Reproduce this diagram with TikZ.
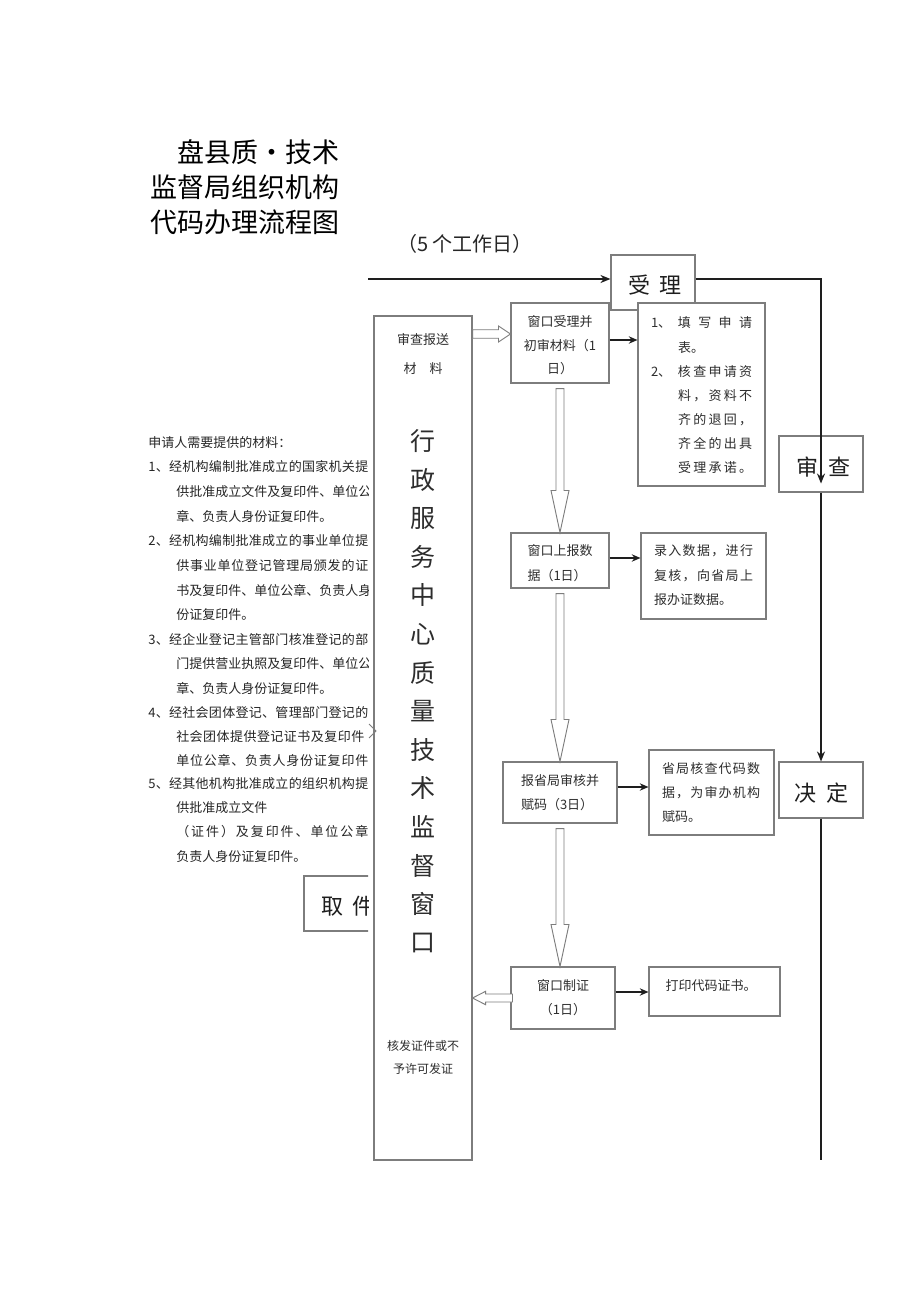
\documentclass[tikz,border=0pt]{standalone}
\usepackage{fontspec}
\setmainfont{Noto Sans CJK SC}
\usetikzlibrary{calc,arrows.meta}
\definecolor{bx}{RGB}{125,125,125}
\definecolor{tx}{RGB}{45,45,45}
\definecolor{ln}{RGB}{30,30,30}
\newcommand\fsz[2]{\fontsize{#1}{#2}\selectfont}
\ExplSyntaxOn
\NewDocumentCommand\jl{mm}{\makebox[#1][s]{\tl_map_inline:nn{#2}{##1\hskip 0pt plus 1fil}\unskip}}
\ExplSyntaxOff
\newcommand\hdown[2]{\draw[hollow] let \p1=($(#1.south)+(0,5)$), \p2=(#2.north) in
  (\x1-3pt,\y1) -- (\x1+3pt,\y1) -- (\x1+3pt,\y2+31.5pt) -- (\x1+6.75pt,\y2+31.5pt) --
  (\x1,\y2) -- (\x1-6.75pt,\y2+31.5pt) -- (\x1-3pt,\y2+31.5pt) -- cycle;}
\newcommand\hright[2]{\draw[hollow] let \p1=(#1), \p2=(#2) in
  (\x1,\y2+3.2pt) -- (\x2-9pt,\y2+3.2pt) -- (\x2-9pt,\y2+6pt) -- (\x2,\y2) --
  (\x2-9pt,\y2-6pt) -- (\x2-9pt,\y2-3.2pt) -- (\x1,\y2-3.2pt) -- cycle;}
\newcommand\hleft[2]{\draw[hollow] let \p1=(#1), \p2=(#2) in
  (\x1+1.5pt,\y1+3pt) -- (\x2+9.75pt,\y1+3pt) -- (\x2+9.75pt,\y1+5pt) -- (\x2,\y1) --
  (\x2+9.75pt,\y1-5pt) -- (\x2+9.75pt,\y1-3pt) -- (\x1+1.5pt,\y1-3pt) -- cycle;}
\begin{document}
\begin{tikzpicture}[x=0.75pt,y=-0.75pt,
  box/.style={draw=bx,line width=0.8pt,inner sep=0pt,fill=white},
  hollow/.style={draw=bx,line width=0.7pt,fill=white},
  flow/.style={draw=ln,line width=1.1pt},
  ftip/.style={-{Stealth[length=7.5pt,width=6pt]}},
  arr/.style={draw=ln,line width=1pt,-{Stealth[length=6.5pt,width=5.5pt]}},
  bt/.style={font=\fsz{9.75pt}{18pt},text=tx,inner sep=0pt},
  lt/.style={font=\fsz{9.75pt}{9.75pt},text=black!85,inner sep=0pt,anchor=west},
  big/.style={font=\fsz{16.5pt}{16.5pt},text=ln,inner sep=0pt}]
\fill[white] (0,0) rectangle (920,1301);
\useasboundingbox (0,0) rectangle (920,1301);

% title
\node[anchor=west,align=left,font=\fsz{20.25pt}{26.25pt},inner sep=0pt] (title) at (150,187)
  {\hspace*{20.25pt}盘县质・技术\\监督局组织机构\\代码办理流程图};
\node[font=\fsz{15pt}{15pt},inner sep=0pt,text=black!85] (days) at (465,244) {（5 个工作日）};

% boxes
\node[box,minimum width=63pt,minimum height=41.25pt] (shouli) at (653,282.5) {};
\node[box,minimum width=63pt,minimum height=42pt] (shencha) at (821,464) {};
\node[box,minimum width=63pt,minimum height=42pt] (jueding) at (821,790) {};
\node[box,minimum width=73.5pt,minimum height=633pt] (bigbox) at (423,738) {};
\node[box,minimum width=73.5pt,minimum height=60pt] (ck1) at (560,343) {};
\node[box,minimum width=95.25pt,minimum height=137.25pt] (note1) at (701.5,394.5) {};
\node[box,minimum width=73.5pt,minimum height=41.25pt] (sb) at (560,560.5) {};
\node[box,minimum width=93.75pt,minimum height=64.5pt] (note2) at (703.5,576) {};
\node[box,minimum width=85.5pt,minimum height=45.75pt] (bs) at (560,792.5) {};
\node[box,minimum width=93.75pt,minimum height=63.75pt] (note3) at (711.5,792.5) {};
\node[box,minimum width=78pt,minimum height=46.5pt] (zz) at (563,998) {};
\node[box,minimum width=98.25pt,minimum height=36.75pt] (note4) at (714.5,991.5) {};

% box texts
\node[big] (sht) at (655,285.5) {受\hspace{7.5pt}理};
\node[big] (sct) at (823,467) {审\hspace{7.5pt}查};
\node[big] (jdt) at (821,793) {决\hspace{7.5pt}定};
\node[bt] (bb1) at (423,340) {审查报送};
\node[bt] (bb2) at (423,369) {材　料};
\foreach \c [count=\i from 0] in {行,政,服,务,中,心,质,量,技,术,监,督,窗,口}
  \node[font=\fsz{18.75pt}{18.75pt},text=tx,inner sep=0pt] (v\i) at (423,441+38.6*\i) {\c};
\node[bt,align=center,font=\fsz{9pt}{17.25pt}] (bb3) at (423,1057) {核发证件或不\\予许可发证};
\node[bt,align=center,font=\fsz{9.75pt}{17.6pt}] (ck1t) at (560,345.5) {窗口受理并\\初审材料（1\\日）};
\node[bt,align=left,font=\fsz{9.75pt}{18.125pt}] (n1t) at (701.5,395.5) {%
  \makebox[20.25pt][l]{1、}\jl{55.5pt}{填写申请}\\
  \hspace*{20.25pt}表。\\
  \makebox[20.25pt][l]{2、}\jl{55.5pt}{核查申请资}\\
  \hspace*{20.25pt}\jl{55.5pt}{料，资料不}\\
  \hspace*{20.25pt}\jl{55.5pt}{齐的退回，}\\
  \hspace*{20.25pt}\jl{55.5pt}{齐全的出具}\\
  \hspace*{20.25pt}\jl{55.5pt}{受理承诺。}};
\node[bt,align=left,font=\fsz{9.75pt}{18.75pt}] (sbt) at (560,563.5) {窗口上报数\\据（1日）};
\node[bt,align=left,font=\fsz{9.75pt}{18.375pt}] (n2t) at (703.5,575.5)
  {\jl{74.25pt}{录入数据，进行}\\\jl{74.25pt}{复核，向省局上}\\报办证数据。};
\node[bt,align=left] (bst) at (560,793) {报省局审核并\\赋码（3日）};
\node[bt,align=left] (n3t) at (711,793)
  {\jl{73.5pt}{省局核查代码数}\\\jl{73.5pt}{据，为审办机构}\\赋码。};
\node[bt,align=center] (zzt) at (563,998) {窗口制证\\（1日）};
\node[bt] (n4t) at (711,986) {打印代码证书。};

% left material list (clipped)
\begin{scope}
\clip (0,0) rectangle (368,1301);
\node[lt] (l0) at (148,443) {申请人需要提供的材料：};
\node[lt] (l1) at (148,467) {\jl{165pt}{1、经机构编制批准成立的国家机关提}};
\node[lt] (l2) at (176,492) {\jl{144pt}{供批准成立文件及复印件、单位公}};
\node[lt] (l3) at (176,517) {章、负责人身份证复印件。};
\node[lt] (l4) at (148,541) {\jl{165pt}{2、经机构编制批准成立的事业单位提}};
\node[lt] (l5) at (176,566) {\jl{144pt}{供事业单位登记管理局颁发的证}};
\node[lt] (l6) at (176,591) {\jl{144pt}{书及复印件、单位公章、负责人身}};
\node[lt] (l7) at (176,615) {份证复印件。};
\node[lt] (l8) at (148,640) {\jl{165pt}{3、经企业登记主管部门核准登记的部}};
\node[lt] (l9) at (176,664) {\jl{144pt}{门提供营业执照及复印件、单位公}};
\node[lt] (l10) at (176,689) {章、负责人身份证复印件。};
\node[lt] (l11) at (148,713) {\jl{165pt}{4、经社会团体登记、管理部门登记的}};
\node[lt] (l12) at (176,737) {\jl{141pt}{社会团体提供登记证书及复印件}};
\node[lt] (l13) at (176,761) {\jl{144pt}{单位公章、负责人身份证复印件}};
\node[lt] (l14) at (148,784) {\jl{165pt}{5、经其他机构批准成立的组织机构提}};
\node[lt] (l15) at (176,808) {供批准成立文件};
\node[lt] (l16) at (176,832) {\jl{144pt}{（证件）及复印件、单位公章}};
\node[lt] (l17) at (176,857) {负责人身份证复印件。};
\node[box,minimum width=63pt,minimum height=41.25pt] (qj) at (346,903.5) {};
\node[big] (qjt) at (348,906) {取\hspace{7.5pt}件};
\end{scope}
\draw[draw=bx,line width=0.6pt] (369,724) -- (376,731) -- (369,738);

% hollow arrows
\coordinate (tipA) at ($(ck1.west)+(0,-9)$);
\hright{bigbox.east}{tipA}
\hdown{ck1}{sb}
\hdown{sb}{bs}
\hdown{bs}{zz}
\hleft{zz.west}{bigbox.east}

% thin arrows
\coordinate (a1) at ($(ck1.east)+(0,-3)$);
\draw[arr] (a1) -- (a1 -| note1.west);
\coordinate (a2) at ($(sb.east)+(0,-2.5)$);
\draw[arr] (a2) -- (a2 -| note2.west);
\coordinate (a3) at ($(bs.east)+(0,-5.5)$);
\draw[arr] (a3) -- (a3 -| note3.west);
\coordinate (a4) at ($(zz.east)+(0,-6)$);
\draw[arr] (a4) -- (a4 -| note4.west);

% main flow
\coordinate (start) at (368,279);
\draw[flow,ftip] (start) -- (start -| shouli.west);
\draw[flow,ftip] (start -| shouli.east) -| ($(shencha.south)+(0,-9)$);
\draw[flow,ftip] (shencha.south) -- (jueding.north);
\coordinate (fend) at (821,1160);
\draw[flow] (jueding.south) -- (fend);
\end{tikzpicture}
\end{document}
